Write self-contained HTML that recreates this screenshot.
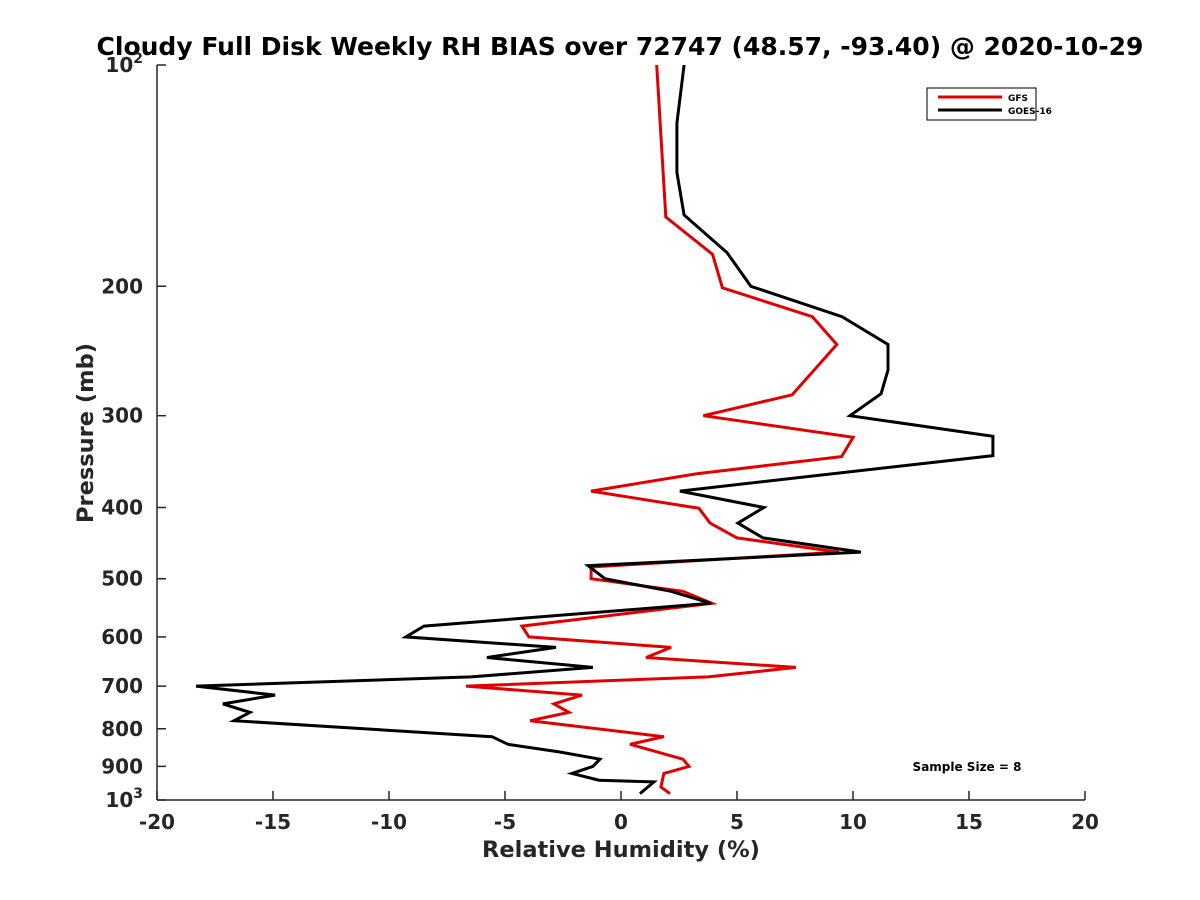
<!DOCTYPE html>
<html><head><meta charset="utf-8"><style>
body{margin:0;background:#fff;}
svg{display:block;font-family:"DejaVu Sans","Liberation Sans",sans-serif;font-weight:bold;}
</style></head><body>
<svg id="chart" width="1200" height="900" viewBox="0 0 1200 900">
<rect x="0" y="0" width="1200" height="900" fill="#fff"/>
<text x="620" y="55" font-size="25" text-anchor="middle" fill="#000">Cloudy Full Disk Weekly RH BIAS over 72747 (48.57, -93.40) @ 2020-10-29</text>
<g id="axes"></g>
<g id="series"></g>
<text x="621" y="857" font-size="22.5" text-anchor="middle" fill="#262626">Relative Humidity (%)</text>
<text transform="translate(93,433) rotate(-90)" font-size="22.5" text-anchor="middle" fill="#262626">Pressure (mb)</text>
<g>
<rect x="927" y="88" width="109" height="32" fill="#fff" stroke="#262626" stroke-width="1.2"/>
<line x1="938" y1="97" x2="1002" y2="97" stroke="#e00000" stroke-width="3"/>
<text x="1008" y="101" font-size="9">GFS</text>
<line x1="938" y1="110" x2="1002" y2="110" stroke="#000" stroke-width="3"/>
<text x="1008" y="114" font-size="9">GOES-16</text>
</g>
<text x="967" y="771" font-size="12" text-anchor="middle">Sample Size = 8</text>
</svg>
<script>
const xTicks=[-20,-15,-10,-5,0,5,10,15,20];
const yTicks=[100,200,300,400,500,600,700,800,900,1000];
const yTickLabels=["10^2","200","300","400","500","600","700","800","900","10^3"];
const gfsPressure=[100,161,181,201,220,240,281,300,321,341,360,380,401,420,440,460,482,500,520,540,580,600,620,640,660,680,700,720,740,760,780,820,840,880,900,920,960,980];
const gfsBias=[1.54,1.93,3.95,4.37,8.25,9.30,7.38,3.55,10.01,9.51,3.23,-1.29,3.36,3.84,5.0,9.40,-1.29,-1.29,2.67,3.92,-4.27,-3.97,2.16,1.08,7.54,3.75,-6.68,-1.68,-2.89,-2.24,-3.92,1.85,0.39,2.67,2.93,1.85,1.72,2.11];
const goesPressure=[100,120,140,160,180,200,220,240,260,280,300,320,340,380,400,420,440,460,480,500,520,540,580,600,620,640,660,680,700,720,740,760,780,820,840,860,880,900,920,940,945,980];
const goesBias=[2.72,2.41,2.41,2.72,4.57,5.60,9.53,11.51,11.51,11.21,9.87,16.03,16.03,2.54,6.16,5.04,6.12,10.34,-1.42,-0.69,2.16,3.88,-8.49,-9.27,-2.80,-5.78,-1.21,-6.47,-18.32,-14.91,-17.16,-15.99,-16.68,-5.56,-4.87,-2.67,-0.91,-1.21,-2.11,-0.95,1.42,0.82];

const L=157,R=1085,T=65,B=800;
const xs=v=>L+(v+20)/40*(R-L);
const ys=p=>T+Math.log10(p/100)*(B-T);
const NS='http://www.w3.org/2000/svg';
const axes=document.getElementById('axes');
const series=document.getElementById('series');
function mk(tag,attrs,parent){const e=document.createElementNS(NS,tag);for(const k in attrs)e.setAttribute(k,attrs[k]);parent.appendChild(e);return e;}

let ax=mk('line',{x1:L,y1:B,x2:R,y2:B,stroke:'#262626','stroke-width':1.5},axes);


let ay=mk('line',{x1:L,y1:T,x2:L,y2:B,stroke:'#262626','stroke-width':1.5},axes);



xTicks.forEach(v=>{
  const x=xs(v);
  const t=mk('line',{x1:x,y1:B,x2:x,y2:B-9,stroke:'#262626','stroke-width':1.5},axes);
  
  
  const lb=mk('text',{x:x,y:B+29,'font-size':20,'text-anchor':'middle',fill:'#262626'},axes);
  lb.textContent=String(v);
  
  
});
yTicks.forEach((p,i)=>{
  const y=ys(p);
  const t=mk('line',{x1:L,y1:y,x2:L+9,y2:y,stroke:'#262626','stroke-width':1.5},axes);
  
  
  const lab=yTickLabels[i];
  const lb=mk('text',{x:L-14,y:y+7,'font-size':20,'text-anchor':'end',fill:'#262626'},axes);
  if(lab.indexOf('^')>=0){
    const parts=lab.split('^');
    const a=mk('tspan',{},lb);a.textContent=parts[0];
    const b=mk('tspan',{dy:-9,'font-size':14},lb);b.textContent=parts[1];
  } else lb.textContent=lab;
  
  
});

function drawLine(pr,vals,color,name){
  const pts=pr.map((p,i)=>xs(vals[i]).toFixed(1)+','+ys(p).toFixed(1)).join(' ');
  const pl=mk('polyline',{points:pts,fill:'none',stroke:color,'stroke-width':3,'stroke-linejoin':'miter'},series);
  
  
}
drawLine(gfsPressure,gfsBias,'#e00000','gfs-line');
drawLine(goesPressure,goesBias,'#000','goes16-line');
</script>
</body></html>
